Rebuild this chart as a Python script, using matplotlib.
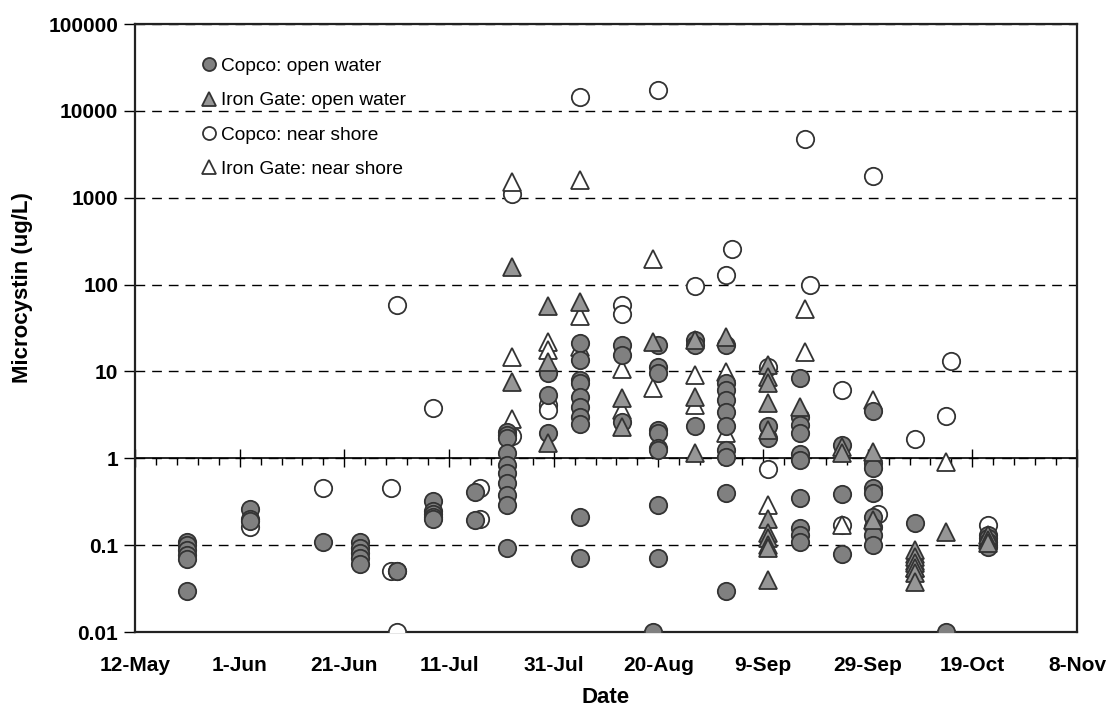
import numpy as np
import pandas as pd
import matplotlib
matplotlib.use("Agg")
import matplotlib.pyplot as plt
import matplotlib.dates as mdates
from matplotlib.ticker import FixedLocator, NullFormatter, FuncFormatter, NullLocator

plt.rcParams["font.family"] = ["Liberation Sans", "DejaVu Sans"]

YEAR = 2007

# Copco: open water (filled circles)
copco_open_dates = (
    ["22-May"] * 6 + ["3-Jun"] * 3 + ["17-Jun"] + ["24-Jun"] * 5 + ["1-Jul"] * 2
    + ["8-Jul"] * 5 + ["16-Jul"] * 2 + ["22-Jul"] * 10 + ["30-Jul"] * 3
    + ["5-Aug"] * 10 + ["13-Aug"] * 3 + ["20-Aug"] * 9 + ["19-Aug"]
    + ["27-Aug"] * 3 + ["2-Sep"] * 10 + ["10-Sep"] * 2 + ["16-Sep"] * 10
    + ["24-Sep"] * 3 + ["30-Sep"] * 9 + ["8-Oct"] + ["14-Oct"] + ["22-Oct"] * 5
)
copco_open_values = [
    0.11, 0.10, 0.088, 0.077, 0.07, 0.03,
    0.26, 0.20, 0.19,
    0.11,
    0.11, 0.092, 0.081, 0.071, 0.06,
    0.05, 0.05,
    0.32, 0.25, 0.23, 0.21, 0.20,
    0.41, 0.195,
    2.0, 1.85, 1.7, 1.14, 0.84, 0.67, 0.52, 0.38, 0.29, 0.092,
    9.5, 5.35, 1.94,
    21, 13.5, 7.9, 7.3, 5.1, 3.9, 3.0, 2.5, 0.21, 0.071,
    20, 15.5, 2.6,
    20, 11.3, 9.5, 2.1, 1.94, 1.3, 1.25, 0.29, 0.071,
    0.01,
    23, 20, 2.37,
    20, 7.3, 6.1, 4.7, 3.4, 2.37, 1.25, 1.04, 0.40, 0.030,
    2.37, 1.7,
    8.5, 3.0, 2.4, 1.94, 1.12, 0.96, 0.35, 0.157, 0.13, 0.11,
    1.42, 0.39, 0.08,
    3.5, 0.88, 0.77, 0.45, 0.40, 0.21, 0.16, 0.13, 0.10,
    0.18,
    0.01,
    0.13, 0.12, 0.11, 0.10, 0.095,
]

# Iron Gate: open water (filled triangles)
irongate_open_dates = (
    ["23-Jul"] * 2 + ["30-Jul"] * 3 + ["5-Aug"] + ["13-Aug"] * 2 + ["19-Aug"]
    + ["27-Aug"] * 3 + ["2-Sep"] + ["10-Sep"] * 11 + ["16-Sep"] + ["24-Sep"] * 2
    + ["30-Sep"] * 2 + ["8-Oct"] * 6 + ["14-Oct"] + ["22-Oct"] * 3
)
irongate_open_values = [
    159, 7.6,
    56, 12.9, 1.49,
    63,
    4.9, 2.3,
    22,
    23, 5.1, 1.14,
    25,
    11.8, 8.7, 7.3, 4.3, 2.1, 0.20, 0.137, 0.12, 0.10, 0.092, 0.040,
    3.9,
    1.36, 1.14,
    1.19, 0.195,
    0.088, 0.074, 0.062, 0.054, 0.048, 0.038,
    0.143,
    0.13, 0.115, 0.105,
]

# Copco: near shore (open circles)
copco_shore_dates = (
    ["3-Jun", "17-Jun", "30-Jun", "30-Jun", "1-Jul", "1-Jul", "8-Jul",
     "17-Jul", "17-Jul", "23-Jul", "23-Jul", "30-Jul", "30-Jul", "5-Aug",
     "13-Aug", "13-Aug", "20-Aug", "27-Aug", "2-Sep", "3-Sep", "10-Sep",
     "10-Sep", "17-Sep", "18-Sep", "24-Sep", "24-Sep", "30-Sep", "1-Oct",
     "8-Oct", "14-Oct", "15-Oct", "22-Oct"]
)
copco_shore_values = [
    0.16, 0.45, 0.45, 0.05, 58, 0.01, 3.8,
    0.45, 0.2, 1110, 1.8, 4.1, 3.6, 14300,
    58, 46, 17500, 96, 130, 259, 11.3,
    0.75, 4760, 100, 6.1, 0.17, 1780, 0.23,
    1.65, 3.09, 13.1, 0.17,
]

# Iron Gate: near shore (open triangles)
irongate_shore_dates = (
    ["23-Jul"] * 3 + ["30-Jul"] * 2 + ["5-Aug"] * 3 + ["13-Aug"] * 2
    + ["19-Aug"] * 2 + ["27-Aug"] * 2 + ["2-Sep"] * 2 + ["10-Sep"]
    + ["17-Sep"] * 2 + ["24-Sep"] + ["30-Sep"] + ["8-Oct"] * 3 + ["14-Oct"]
    + ["22-Oct"]
)
irongate_shore_values = [
    1500, 14.7, 2.8,
    21.9, 17.5,
    1610, 44, 19.2,
    10.8, 3.6,
    199, 6.5,
    9.1, 4.1,
    9.9, 1.94,
    0.29,
    53, 16.8,
    0.17,
    4.7,
    0.08, 0.065, 0.055,
    0.91,
    0.12,
]


def to_dates(labels):
    return pd.to_datetime([f"{s}-{YEAR}" for s in labels], format="%d-%b-%Y")


fig = plt.figure(figsize=(11.07, 7.11), dpi=100)
ax = fig.add_axes([135 / 1107, 1 - 632 / 711, 942 / 1107, 608 / 711])

edge = "#333333"
ms = 12.5
ax.plot(to_dates(copco_shore_dates), copco_shore_values, ls="none", marker="o",
        ms=ms, mfc="white", mec=edge, mew=1.3, label="Copco: near shore", zorder=3)
ax.plot(to_dates(irongate_shore_dates), irongate_shore_values, ls="none", marker="^",
        ms=ms, mfc="white", mec=edge, mew=1.3, label="Iron Gate: near shore", zorder=3)
ax.plot(to_dates(copco_open_dates), copco_open_values, ls="none", marker="o",
        ms=ms, mfc="#808080", mec=edge, mew=1.3, label="Copco: open water", zorder=4)
ax.plot(to_dates(irongate_open_dates), irongate_open_values, ls="none", marker="^",
        ms=ms, mfc="#969696", mec=edge, mew=1.3, label="Iron Gate: open water", zorder=4)

ax.set_yscale("log")
ymin, ymax = 0.01, 100000
ax.set_ylim(ymin, ymax)
start = pd.Timestamp(f"{YEAR}-05-12")
end = pd.Timestamp(f"{YEAR}-11-08")
ax.set_xlim(start, end)

# x ticks every 20 days, minor every 4 days
major_days = pd.date_range(start, end, freq="20D")
minor_days = pd.date_range(start, end, freq="4D")
ax.set_xticks(major_days)
ax.set_xticklabels([f"{d.day}-{d.strftime('%b')}" for d in major_days])
ax.tick_params(axis="x", length=0, pad=17, labelsize=15)
for lab in ax.get_xticklabels():
    lab.set_fontweight("bold")

ax.yaxis.set_major_locator(FixedLocator([0.01, 0.1, 1, 10, 100, 1000, 10000, 100000]))
ax.yaxis.set_minor_locator(NullLocator())
ax.yaxis.set_major_formatter(FuncFormatter(lambda v, _: f"{v:g}"))
ax.tick_params(axis="y", length=8, width=1, direction="out", pad=4, labelsize=15)
for lab in ax.get_yticklabels():
    lab.set_fontweight("bold")

ax.yaxis.grid(True, color="black", lw=1, ls=(0, (7, 5)))
ax.set_axisbelow(True)

for sp in ax.spines.values():
    sp.set_linewidth(1.6)
    sp.set_color("#222222")

# category axis crossing at y = 1
cross = np.log10(1 / ymin) / np.log10(ymax / ymin)
secax = ax.secondary_xaxis(cross)
secax.xaxis.set_major_locator(FixedLocator(mdates.date2num(major_days)))
secax.xaxis.set_minor_locator(FixedLocator(mdates.date2num(minor_days)))
secax.xaxis.set_major_formatter(NullFormatter())
secax.xaxis.set_minor_formatter(NullFormatter())
secax.tick_params(which="major", direction="inout", length=13, width=1)
secax.tick_params(which="minor", direction="out", length=5, width=1)
secax.spines["bottom"].set_linewidth(1.2)

ax.set_xlabel("Date", fontsize=16, fontweight="bold", labelpad=9)
ax.set_ylabel("Microcystin (ug/L)", fontsize=16, fontweight="bold")
ax.yaxis.set_label_coords(-0.108, 0.566)

h, l = ax.get_legend_handles_labels()
order = [2, 3, 0, 1]
ax.legend([h[i] for i in order], [l[i] for i in order], loc="upper left",
          bbox_to_anchor=(0.052, 0.973), frameon=False, fontsize=13.8,
          markerscale=0.75, handlelength=0.8, handletextpad=0.25,
          labelspacing=0.88)

fig.savefig("out.png", dpi=100)
